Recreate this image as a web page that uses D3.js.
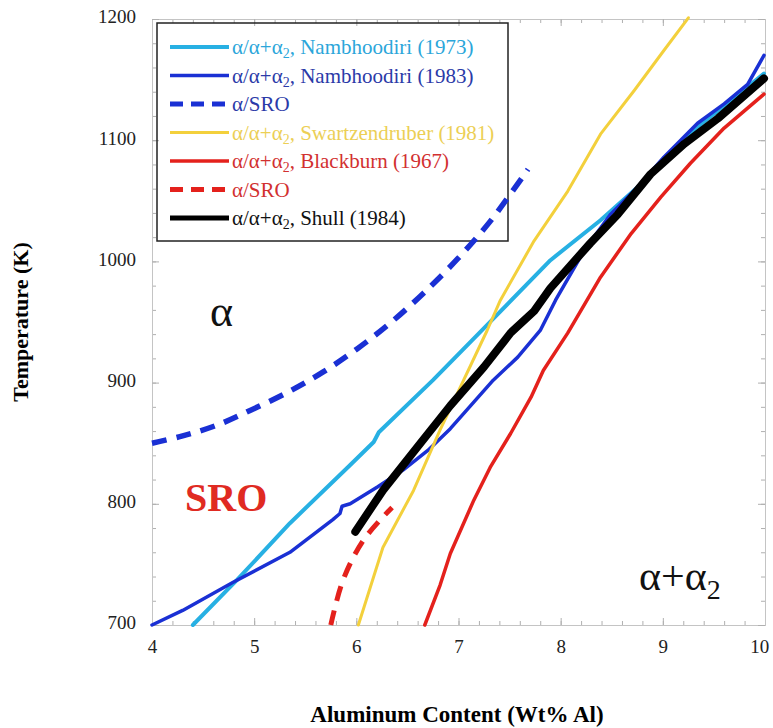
<!DOCTYPE html>
<html>
<head>
<meta charset="utf-8">
<script src="https://cdn.jsdelivr.net/npm/d3@7"></script>
<style>
  body { margin: 0; background: #fff; }
  svg text { font-family: 'Liberation Serif', 'Times New Roman', serif; }
</style>
</head>
<body>
<div id="chart"></div>
<script>
// Nambhoodiri (1973) α/α+α2
const namb73Al = [4.40, 4.83, 5.35, 5.94, 6.17, 6.22, 6.75, 7.25, 7.90, 8.39, 8.75, 9.08, 9.37, 9.70, 9.99];
const namb73T = [700, 737, 784, 832, 851, 859, 902, 945, 1001, 1034, 1061, 1089, 1113, 1135, 1155];
// Nambhoodiri (1983) α/α+α2
const namb83Al = [4.00, 4.30, 4.79, 5.35, 5.77, 5.84, 5.86, 5.94, 6.21, 6.46, 6.70, 6.92, 7.34, 7.58, 7.80, 7.95, 8.23, 8.49, 8.75, 9.01, 9.34, 9.60, 9.83, 9.99];
const namb83T = [700, 712, 735, 760, 787, 792, 798, 800, 814, 828, 844, 862, 902, 921, 943, 968, 1009, 1039, 1061, 1086, 1114, 1130, 1146, 1170];
// Nambhoodiri (1983) α/SRO
const namb83SroAl = [4.00, 4.30, 4.64, 4.96, 5.35, 5.68, 6.01, 6.33, 6.66, 6.99, 7.31, 7.68];
const namb83SroT = [850, 856, 865, 877, 893, 909, 928, 949, 974, 1002, 1033, 1076];
// Swartzendruber (1981)
const swartzAl = [6.02, 6.26, 6.56, 6.82, 7.28, 7.41, 7.74, 8.07, 8.39, 8.72, 9.01, 9.25];
const swartzT = [700, 764, 811, 861, 943, 968, 1017, 1058, 1105, 1141, 1174, 1201];
// Blackburn (1967)
const blackAl = [6.67, 6.82, 6.92, 7.15, 7.31, 7.51, 7.71, 7.83, 8.07, 8.39, 8.69, 8.98, 9.27, 9.60, 9.99];
const blackT = [700, 733, 759, 803, 830, 858, 888, 910, 941, 987, 1023, 1053, 1081, 1110, 1138];
// Blackburn (1967) α/SRO
const blackSroAl = [5.75, 5.87, 6.07, 6.35];
const blackSroT = [700, 737, 770, 797];
// Shull (1984)
const shullAl = [5.99, 6.26, 6.60, 6.92, 7.25, 7.51, 7.74, 7.90, 8.29, 8.56, 8.88, 9.21, 9.54, 9.99];
const shullT = [777, 811, 847, 881, 913, 941, 959, 978, 1015, 1039, 1072, 1097, 1118, 1151];

const xTicks = [4, 5, 6, 7, 8, 9, 10];
const yTicks = [700, 800, 900, 1000, 1100, 1200];

const series = [
  { label: 'Nambhoodiri (1973)', al: namb73Al, t: namb73T, color: '#27b0e3', text: '#2ba6da', width: 4, dash: null, prefix: true },
  { label: 'Nambhoodiri (1983)', al: namb83Al, t: namb83T, color: '#1a30d4', text: '#2b3aa8', width: 3.5, dash: null, prefix: true },
  { label: 'α/SRO', al: namb83SroAl, t: namb83SroT, color: '#1a30d4', text: '#2b3aa8', width: 5.5, dash: '15,10', prefix: false },
  { label: 'Swartzendruber (1981)', al: swartzAl, t: swartzT, color: '#f3d03c', text: '#eccf55', width: 3, dash: null, prefix: true },
  { label: 'Blackburn (1967)', al: blackAl, t: blackT, color: '#e4211c', text: '#d23030', width: 3.5, dash: null, prefix: true },
  { label: 'α/SRO', al: blackSroAl, t: blackSroT, color: '#e4211c', text: '#d23030', width: 5, dash: '15,10', prefix: false },
  { label: 'Shull (1984)', al: shullAl, t: shullT, color: '#000', text: '#111', width: 8, dash: null, prefix: true }
];

const W = 773, H = 728;
const m = { left: 152, right: 8, top: 19, bottom: 103 };

const svg = d3.select('#chart').append('svg').attr('width', W).attr('height', H);

const x = d3.scaleLinear().domain([4, 10]).range([m.left, W - m.right]);
const y = d3.scaleLinear().domain([700, 1200]).range([H - m.bottom, m.top]);

const xMinor = d3.range(4, 10.001, 0.2).map(v => +v.toFixed(1));
const yMinor = d3.range(700, 1200.1, 20);

function styleAxis(g) {
  g.attr('font-family', null);
  g.select('.domain').attr('stroke', '#c4c4c4');
  g.selectAll('.tick line').attr('stroke', '#b0b0b0');
}

// frame with inward ticks on all sides
svg.append('g').attr('transform', `translate(0,${y(700)})`)
  .call(d3.axisBottom(x).tickValues(xMinor).tickSize(-4).tickFormat('')).call(styleAxis);
svg.append('g').attr('transform', `translate(0,${y(700)})`)
  .call(d3.axisBottom(x).tickValues(xTicks).tickSize(-7).tickPadding(15).tickFormat(d3.format('d')))
  .call(styleAxis)
  .call(g => g.selectAll('text').attr('font-size', 19).attr('fill', '#222')
    .attr('dx', d => d === 10 ? '-0.3em' : null));
svg.append('g').attr('transform', `translate(0,${y(1200)})`)
  .call(d3.axisTop(x).tickValues(xMinor).tickSize(-4).tickFormat('')).call(styleAxis);
svg.append('g').attr('transform', `translate(0,${y(1200)})`)
  .call(d3.axisTop(x).tickValues(xTicks).tickSize(-7).tickFormat('')).call(styleAxis);

svg.append('g').attr('transform', `translate(${x(4)},0)`)
  .call(d3.axisLeft(y).tickValues(yMinor).tickSize(-4).tickFormat('')).call(styleAxis);
svg.append('g').attr('transform', `translate(${x(4)},0)`)
  .call(d3.axisLeft(y).tickValues(yTicks).tickSize(-7).tickPadding(16).tickFormat(d3.format('d')))
  .call(styleAxis)
  .call(g => g.selectAll('text').attr('font-size', 19).attr('fill', '#222').attr('dy', '0.2em'));
svg.append('g').attr('transform', `translate(${x(10)},0)`)
  .call(d3.axisRight(y).tickValues(yMinor).tickSize(-4).tickFormat('')).call(styleAxis);
svg.append('g').attr('transform', `translate(${x(10)},0)`)
  .call(d3.axisRight(y).tickValues(yTicks).tickSize(-7).tickFormat('')).call(styleAxis);

// axis titles
svg.append('text')
  .attr('x', 457).attr('y', 722)
  .attr('text-anchor', 'middle').attr('font-size', 23).attr('font-weight', 'bold')
  .text('Aluminum Content (Wt% Al)');
svg.append('text')
  .attr('transform', `translate(28,${(y(700) + y(1200)) / 2}) rotate(-90)`)
  .attr('text-anchor', 'middle').attr('font-size', 22).attr('font-weight', 'bold')
  .text('Temperature (K)');

// legend box
const lg = svg.append('g');
lg.append('rect').attr('x', 157).attr('y', 23).attr('width', 351).attr('height', 218)
  .attr('fill', 'none').attr('stroke', '#222').attr('stroke-width', 1.5);

series.forEach((s, i) => {
  const ly = 47 + i * 28.5;
  lg.append('line').attr('x1', 170).attr('x2', 229).attr('y1', ly).attr('y2', ly)
    .attr('stroke', s.color).attr('stroke-width', Math.min(s.width, 5)).attr('stroke-dasharray', s.dash ? '13,8' : null);
  const t = lg.append('text').attr('x', 232).attr('y', ly + 7).attr('font-size', 21).attr('fill', s.text);
  if (s.prefix) {
    t.append('tspan').text('α/α+α');
    t.append('tspan').attr('font-size', 14).attr('dy', 4).text('2');
    t.append('tspan').attr('dy', -4).text(', ' + s.label);
  } else {
    t.text(s.label);
  }
});

// curves
const line = d3.line().x(d => x(d[0])).y(d => y(d[1]));
const smooth = d3.line().x(d => x(d[0])).y(d => y(d[1])).curve(d3.curveCatmullRom);
svg.append('g').selectAll('path')
  .data(series)
  .join('path')
  .attr('d', s => (s.dash ? smooth : line)(d3.zip(s.al, s.t)))
  .attr('fill', 'none')
  .attr('stroke', s => s.color)
  .attr('stroke-width', s => s.width)
  .attr('stroke-dasharray', s => s.dash)
  .attr('stroke-linejoin', 'round')
  .attr('stroke-linecap', s => s.dash ? 'butt' : 'round');

// phase region labels
svg.append('text').attr('x', 210).attr('y', 326).attr('font-size', 44).attr('fill', '#111').text('α');
svg.append('text').attr('x', 185).attr('y', 511).attr('font-size', 40).attr('font-weight', 'bold').attr('fill', '#e02a22').text('SRO');
const aa = svg.append('text').attr('x', 639).attr('y', 590).attr('font-size', 42).attr('fill', '#111');
aa.append('tspan').text('α+α');
aa.append('tspan').attr('font-size', 28).attr('dy', 9).text('2');
</script>
</body>
</html>
